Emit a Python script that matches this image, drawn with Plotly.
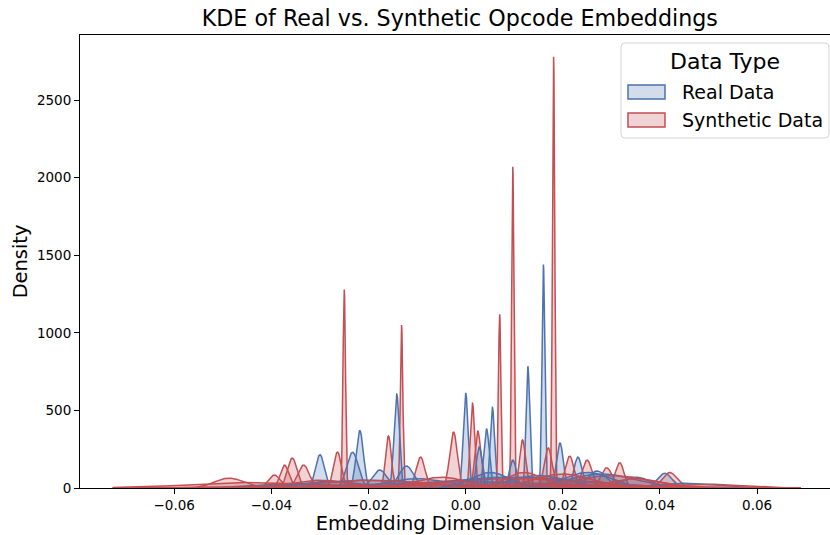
import numpy as np
import plotly.graph_objects as go

# ---- data: KDE components (center, peak density, bandwidth) ----
REAL_CENTERS = [0.0160, 0.0128, 0.0000, 0.0055, 0.0043, -0.0142, -0.0218, -0.0300,
                -0.0233, 0.0194, 0.0231, 0.0410, 0.0028, -0.0122, -0.0177, 0.0097,
                0.0270, 0.0350, -0.0200, 0.0100, 0.0280, -0.0350, 0.0000, 0.0450,
                -0.0100, 0.0150, 0.0250, -0.0280, 0.0050]
REAL_HEIGHTS = [1440, 785, 612, 520, 380, 605, 370, 215,
                230, 290, 200, 95, 265, 142, 116, 180,
                110, 70, 50, 70, 90, 30, 40, 30,
                60, 80, 100, 45, 100]
REAL_WIDTHS = [0.00030, 0.00038, 0.00050, 0.00045, 0.00055, 0.00055, 0.00075, 0.00090,
               0.00120, 0.00070, 0.00080, 0.00150, 0.00060, 0.00150, 0.00150, 0.00070,
               0.00200, 0.00300, 0.01200, 0.01500, 0.00700, 0.00800, 0.02000, 0.00600,
               0.00600, 0.00600, 0.00500, 0.00600, 0.00400]

SYN_CENTERS = [0.0181, 0.0097, -0.0250, -0.0132, 0.0070, 0.0014, -0.0025, 0.0025,
               -0.0159, -0.0264, -0.0093, 0.0117, 0.0170, 0.0214, 0.0250, 0.0317,
               0.0290, 0.0420, -0.0357, -0.0373, -0.0394, -0.0487, -0.0334,
               -0.0450, 0.0300, 0.0100, -0.0200, 0.0000, 0.0500,
               -0.0300, 0.0200, 0.0350, -0.0050, 0.0120]
SYN_HEIGHTS = [2780, 2070, 1280, 1050, 1120, 547, 360, 367,
               335, 232, 200, 310, 258, 206, 180, 163,
               130, 100, 193, 148, 84, 64, 148,
               35, 80, 60, 50, 25, 25,
               50, 90, 60, 70, 100]
SYN_WIDTHS = [0.00024, 0.00024, 0.00026, 0.00026, 0.00026, 0.00045, 0.00080, 0.00060,
              0.00060, 0.00080, 0.00090, 0.00060, 0.00080, 0.00090, 0.00100, 0.00090,
              0.00120, 0.00150, 0.00100, 0.00090, 0.00120, 0.00300, 0.00120,
              0.01200, 0.00800, 0.01500, 0.01200, 0.02500, 0.00700,
              0.00600, 0.00600, 0.00500, 0.00500, 0.00400]

REAL_EXTENT = [-0.060, 0.062]
SYN_EXTENT = [-0.0727, 0.069]

X_TICKS = [-0.06, -0.04, -0.02, 0.00, 0.02, 0.04, 0.06]
Y_TICKS = [0, 500, 1000, 1500, 2000, 2500]

LEGEND_TITLE = "Data Type"
SERIES_NAMES = ["Real Data", "Synthetic Data"]

BLUE = "#4C72B0"
RED = "#C44E52"
BLUE_FILL = "rgba(76,114,176,0.25)"
RED_FILL = "rgba(196,78,82,0.25)"


def kde_curve(c, h, w, extent):
    lo = max(extent[0], c - 4 * w)
    hi = min(extent[1], c + 4 * w)
    xs = np.linspace(lo, hi, 301)
    ys = h * np.exp(-0.5 * ((xs - c) / w) ** 2)
    return xs, ys


fig = go.Figure()

real = list(zip(REAL_CENTERS, REAL_HEIGHTS, REAL_WIDTHS))
syn = list(zip(SYN_CENTERS, SYN_HEIGHTS, SYN_WIDTHS))
n = max(len(real), len(syn))
for i in range(n):
    if i < len(real):
        c, h, w = real[i]
        xs, ys = kde_curve(c, h, w, REAL_EXTENT)
        fig.add_trace(go.Scatter(x=xs, y=ys, mode="lines", fill="tozeroy",
                                 line=dict(color=BLUE, width=1.5), fillcolor=BLUE_FILL,
                                 name=SERIES_NAMES[0], showlegend=False, hoverinfo="skip"))
    if i < len(syn):
        c, h, w = syn[i]
        xs, ys = kde_curve(c, h, w, SYN_EXTENT)
        fig.add_trace(go.Scatter(x=xs, y=ys, mode="lines", fill="tozeroy",
                                 line=dict(color=RED, width=1.5), fillcolor=RED_FILL,
                                 name=SERIES_NAMES[1], showlegend=False, hoverinfo="skip"))

# ---- legend box (matplotlib style: patches with fill + edge) ----
PL, PR, PT, PB = 80, 830, 35, 488


def px(xp):
    return (xp - PL) / (PR - PL)


def py(yp):
    return (PB - yp) / (PB - PT)


def rounded_rect(x0, y0, x1, y1, r):
    X0, X1 = px(x0), px(x1)
    Y0, Y1 = py(y0), py(y1)
    rx, ry = r / (PR - PL), r / (PB - PT)
    return (f"M {X0+rx},{Y0} L {X1-rx},{Y0} Q {X1},{Y0} {X1},{Y0-ry} "
            f"L {X1},{Y1+ry} Q {X1},{Y1} {X1-rx},{Y1} L {X0+rx},{Y1} "
            f"Q {X0},{Y1} {X0},{Y1+ry} L {X0},{Y0-ry} Q {X0},{Y0} {X0+rx},{Y0} Z")


shapes = [dict(type="path", xref="paper", yref="paper",
               path=rounded_rect(621, 43, 829, 138, 4),
               fillcolor="rgba(255,255,255,0.8)", line=dict(color="#d5d5d5", width=1),
               layer="above")]
annotations = [dict(text=LEGEND_TITLE, xref="paper", yref="paper", x=px(725), y=py(62),
                    xanchor="center", yanchor="middle", showarrow=False,
                    font=dict(size=22))]
for k, (name, lc, fc) in enumerate(zip(SERIES_NAMES, [BLUE, RED], [BLUE_FILL, RED_FILL])):
    yc = 92 + 28 * k
    shapes.append(dict(type="rect", xref="paper", yref="paper",
                       x0=px(628), x1=px(665), y0=py(yc + 7), y1=py(yc - 7),
                       fillcolor=fc, line=dict(color=lc, width=1.5), layer="above"))
    annotations.append(dict(text=name, xref="paper", yref="paper", x=px(680), y=py(yc),
                            xanchor="left", yanchor="middle", showarrow=False,
                            font=dict(size=19)))

FONT = "DejaVu Sans"
fig.update_layout(
    width=830, height=535,
    margin=dict(l=PL, r=830 - PR, t=PT, b=535 - PB),
    paper_bgcolor="white", plot_bgcolor="white",
    showlegend=False,
    font=dict(family=FONT, color="black", size=13.9),
    title=dict(text="KDE of Real vs. Synthetic Opcode Embeddings",
               x=0.554, xanchor="center", y=0.966, yanchor="middle",
               font=dict(size=22.2, family=FONT, color="black")),
    xaxis=dict(range=[-0.0794, 0.0750], tickvals=X_TICKS, tickformat=".2f",
               showgrid=False, zeroline=False, showline=True, linecolor="black",
               linewidth=1, mirror=True, ticks="outside", ticklen=5, tickcolor="black",
               tickfont=dict(size=13.5),
               title=dict(text="Embedding Dimension Value", font=dict(size=19.4), standoff=4)),
    yaxis=dict(range=[0, 2920], tickvals=Y_TICKS, tickformat="d",
               showgrid=False, zeroline=False, showline=True, linecolor="black",
               linewidth=1, ticks="outside", ticklen=5, tickcolor="black",
               tickfont=dict(size=13.5),
               title=dict(text="Density", font=dict(size=19.4), standoff=4)),
    shapes=shapes,
    annotations=annotations,
)

fig.write_html("out.html")
